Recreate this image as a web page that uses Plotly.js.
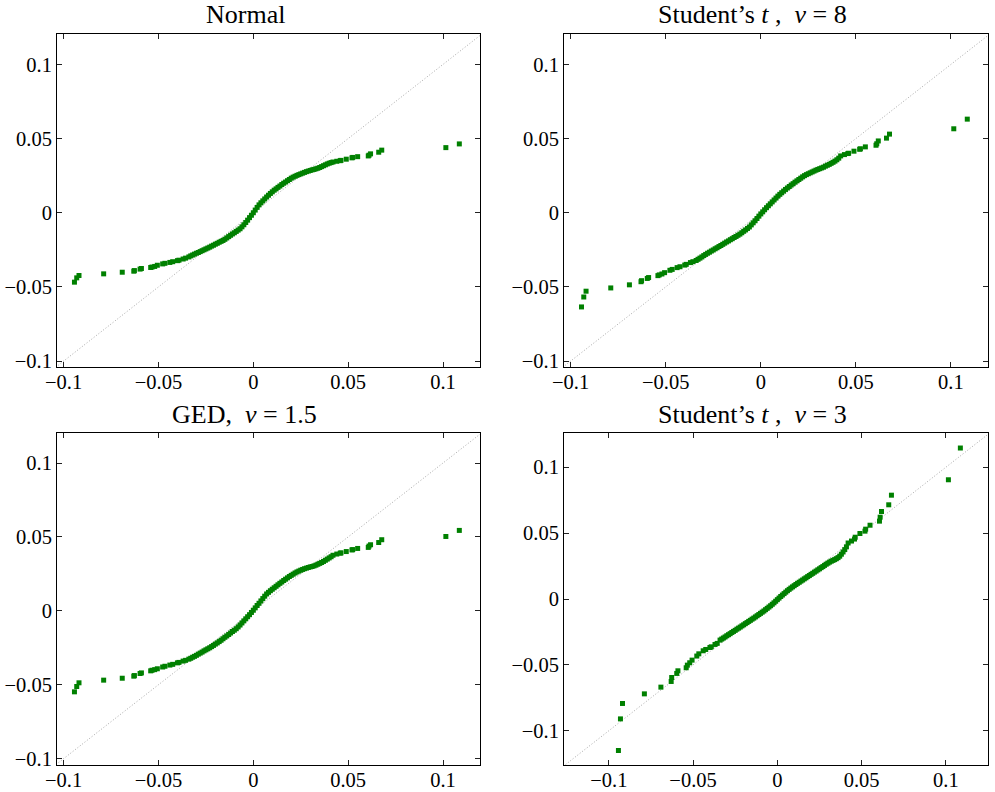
<!DOCTYPE html>
<html>
<head>
<meta charset="utf-8">
<script src="https://cdn.plot.ly/plotly-3.0.1.min.js"></script>
<style>html,body{margin:0;padding:0;background:#fff;}#chart{width:995px;height:792px;}</style>
</head>
<body>
<div id="chart"></div>
<script>
// Panel titles
const titles = ["Normal", "Student’s <i>t</i> ,  <i>ν</i> = 8", "GED,  <i>ν</i> = 1.5", "Student’s <i>t</i> ,  <i>ν</i> = 3"];

// Tick values / labels
const tickVals = [-0.1, -0.05, 0, 0.05, 0.1];
const tickText = ["−0.1", "−0.05", "0", "0.05", "0.1"];

// Reference (45-degree) line end points
const refLine = [-0.2, 0.2];

// Empirical quantiles (shared x for all panels)
const xEmp = [
  -0.0943, -0.0931, -0.0919, -0.0789, -0.0691, -0.0630, -0.0627, -0.0597, -0.0590, -0.0541,
  -0.0534, -0.0520, -0.0506, -0.0478, -0.0466, -0.0440, -0.0425, -0.0400, -0.0392, -0.0370, -0.0357,
  -0.034, -0.033, -0.032, -0.031, -0.030, -0.029, -0.028, -0.027, -0.026, -0.025,
  -0.024, -0.023, -0.022, -0.021, -0.020, -0.019, -0.018, -0.017, -0.016, -0.015,
  -0.014, -0.013, -0.012, -0.011, -0.010, -0.009, -0.008, -0.007, -0.006, -0.005,
  -0.004, -0.003, -0.002, -0.001, 0.000, 0.001, 0.002, 0.003, 0.004, 0.005,
  0.006, 0.007, 0.008, 0.009, 0.010, 0.011, 0.012, 0.013, 0.014, 0.015,
  0.016, 0.017, 0.018, 0.019, 0.020, 0.021, 0.022, 0.023, 0.024, 0.025,
  0.026, 0.027, 0.028, 0.029, 0.030, 0.031, 0.032, 0.033, 0.034, 0.035,
  0.036, 0.037, 0.038, 0.039, 0.040, 0.041,
  0.0420, 0.0440, 0.0458, 0.0462, 0.0490, 0.0520, 0.0524, 0.0550, 0.0606, 0.0610,
  0.0618, 0.0661, 0.0677, 0.1015, 0.1086
];

// Theoretical quantiles: Normal
const yNormal = [
  -0.0468, -0.0439, -0.0423, -0.0412, -0.0401, -0.0394, -0.0390, -0.0380, -0.0376, -0.0369,
  -0.0366, -0.0362, -0.0354, -0.0345, -0.0341, -0.0335, -0.0330, -0.0323, -0.0320, -0.0312, -0.0306,
  -0.0298, -0.0291, -0.0285, -0.0279, -0.0273, -0.0268, -0.0262, -0.0256, -0.0250, -0.0244,
  -0.0238, -0.0232, -0.0225, -0.0219, -0.0212, -0.0206, -0.0199, -0.0193, -0.0187, -0.0179,
  -0.0170, -0.0161, -0.0152, -0.0143, -0.0135, -0.0126, -0.0117, -0.0108, -0.0095, -0.0081,
  -0.0066, -0.0050, -0.0033, -0.0017, 0.0000, 0.0018, 0.0036, 0.0053, 0.0067, 0.0080,
  0.0093, 0.0106, 0.0118, 0.0130, 0.0141, 0.0152, 0.0161, 0.0171, 0.0180, 0.0190,
  0.0199, 0.0207, 0.0216, 0.0224, 0.0233, 0.0240, 0.0246, 0.0252, 0.0257, 0.0262,
  0.0267, 0.0272, 0.0277, 0.0281, 0.0285, 0.0289, 0.0292, 0.0296, 0.0300, 0.0305,
  0.0311, 0.0317, 0.0323, 0.0329, 0.0334, 0.0338,
  0.0342, 0.0347, 0.0351, 0.0353, 0.0361, 0.0370, 0.0373, 0.0378, 0.0383, 0.0388,
  0.0397, 0.0408, 0.0422, 0.0439, 0.0464
];

// Theoretical quantiles: Student's t, nu = 8
const yT8 = [
  -0.0635, -0.0568, -0.0529, -0.0507, -0.0486, -0.0465, -0.0458, -0.0443, -0.0437, -0.0424,
  -0.0419, -0.0413, -0.0404, -0.0388, -0.0382, -0.0370, -0.0364, -0.0353, -0.0348, -0.0336, -0.0330,
  -0.0322, -0.0314, -0.0306, -0.0298, -0.0289, -0.0281, -0.0273, -0.0266, -0.0258, -0.0251,
  -0.0243, -0.0236, -0.0228, -0.0221, -0.0213, -0.0205, -0.0197, -0.0190, -0.0182, -0.0175,
  -0.0167, -0.0160, -0.0152, -0.0144, -0.0135, -0.0125, -0.0116, -0.0106, -0.0096, -0.0082,
  -0.0068, -0.0054, -0.0039, -0.0023, -0.0008, 0.0006, 0.0020, 0.0034, 0.0047, 0.0060,
  0.0073, 0.0086, 0.0099, 0.0112, 0.0124, 0.0135, 0.0146, 0.0157, 0.0167, 0.0177,
  0.0187, 0.0196, 0.0206, 0.0215, 0.0224, 0.0233, 0.0242, 0.0250, 0.0257, 0.0263,
  0.0269, 0.0275, 0.0281, 0.0287, 0.0292, 0.0297, 0.0302, 0.0307, 0.0314, 0.0320,
  0.0326, 0.0333, 0.0340, 0.0348, 0.0357, 0.0368,
  0.0383, 0.0392, 0.0399, 0.0401, 0.0415, 0.0428, 0.0431, 0.0444, 0.0455, 0.0465,
  0.0484, 0.0503, 0.0530, 0.0566, 0.0631
];

// Theoretical quantiles: GED, nu = 1.5
const yGED = [
  -0.0548, -0.0512, -0.0487, -0.0469, -0.0456, -0.0442, -0.0438, -0.0424, -0.0420, -0.0406,
  -0.0402, -0.0398, -0.0392, -0.0380, -0.0375, -0.0367, -0.0362, -0.0352, -0.0349, -0.0340, -0.0335,
  -0.0327, -0.0321, -0.0314, -0.0308, -0.0301, -0.0293, -0.0286, -0.0279, -0.0271, -0.0264,
  -0.0257, -0.0250, -0.0242, -0.0234, -0.0225, -0.0217, -0.0208, -0.0199, -0.0189, -0.0179,
  -0.0170, -0.0160, -0.0150, -0.0140, -0.0131, -0.0121, -0.0109, -0.0096, -0.0082, -0.0068,
  -0.0054, -0.0040, -0.0026, -0.0011, 0.0004, 0.0020, 0.0036, 0.0051, 0.0067, 0.0083,
  0.0099, 0.0114, 0.0125, 0.0136, 0.0146, 0.0156, 0.0166, 0.0176, 0.0186, 0.0195,
  0.0205, 0.0214, 0.0223, 0.0232, 0.0240, 0.0248, 0.0256, 0.0263, 0.0269, 0.0275,
  0.0280, 0.0285, 0.0289, 0.0293, 0.0297, 0.0300, 0.0304, 0.0309, 0.0315, 0.0321,
  0.0327, 0.0334, 0.0342, 0.0350, 0.0358, 0.0366,
  0.0376, 0.0384, 0.0390, 0.0392, 0.0401, 0.0412, 0.0414, 0.0422, 0.0429, 0.0438,
  0.0447, 0.0462, 0.0481, 0.0503, 0.0544
];

// Theoretical quantiles: Student's t, nu = 3
const yT3 = [
  -0.1150, -0.0910, -0.0793, -0.0720, -0.0669, -0.0626, -0.0596, -0.0565, -0.0545, -0.0522,
  -0.0502, -0.0484, -0.0464, -0.0433, -0.0416, -0.0393, -0.0383, -0.0368, -0.0363, -0.0345, -0.0337,
  -0.0312, -0.0304, -0.0296, -0.0288, -0.0279, -0.0271, -0.0263, -0.0254, -0.0246, -0.0238,
  -0.0229, -0.0221, -0.0213, -0.0204, -0.0196, -0.0187, -0.0179, -0.0170, -0.0162, -0.0153,
  -0.0145, -0.0136, -0.0127, -0.0118, -0.0109, -0.0100, -0.0091, -0.0081, -0.0071, -0.0061,
  -0.0051, -0.0040, -0.0029, -0.0017, -0.0005, 0.0007, 0.0019, 0.0030, 0.0041, 0.0052,
  0.0063, 0.0073, 0.0083, 0.0092, 0.0101, 0.0110, 0.0119, 0.0127, 0.0136, 0.0144,
  0.0153, 0.0161, 0.0170, 0.0178, 0.0187, 0.0195, 0.0204, 0.0212, 0.0221, 0.0229,
  0.0238, 0.0246, 0.0255, 0.0264, 0.0272, 0.0280, 0.0287, 0.0293, 0.0299, 0.0306,
  0.0314, 0.0325, 0.0340, 0.0357, 0.0375, 0.0396,
  0.0425, 0.0440, 0.0455, 0.0469, 0.0497, 0.0515, 0.0530, 0.0560, 0.0591, 0.0621,
  0.0664, 0.0715, 0.0788, 0.0905, 0.1146
];

const series = [yNormal, yT8, yGED, yT3];
const axSuffix = ["", "2", "3", "4"];

const traces = [];
series.forEach((ys, i) => {
  const xa = "x" + axSuffix[i], ya = "y" + axSuffix[i];
  traces.push({
    x: refLine, y: refLine, xaxis: xa, yaxis: ya, mode: "lines",
    line: {color: "#a8a8a8", width: 1, dash: "1px,2px"}, hoverinfo: "skip", showlegend: false
  });
  traces.push({
    x: xEmp, y: ys, xaxis: xa, yaxis: ya, mode: "markers",
    marker: {symbol: "square", size: 5, color: "#008000", line: {width: 0}},
    showlegend: false
  });
});

const W = 995, H = 792;
// pixel boxes [left, right, top, bottom]
const boxes = [[57, 480, 34, 367], [564, 988, 34, 367], [57, 480, 433, 765], [564, 988, 433, 765]];
const xRanges = [[-0.1035, 0.1195], [-0.1035, 0.1195], [-0.1035, 0.1195], [-0.1266, 0.125]];
const yRanges = [[-0.104, 0.1205], [-0.104, 0.1205], [-0.1043, 0.1203], [-0.126, 0.126]];
const titlePos = [[245, 15], [752, 15], [244, 414], [752, 414]];

const fontFam = "Liberation Serif, Times New Roman, serif";
const baseAxis = {
  showline: true, linecolor: "#000", linewidth: 1, mirror: "ticks",
  ticks: "inside", ticklen: 5, tickwidth: 1, tickcolor: "#222",
  showgrid: false, zeroline: false, fixedrange: true,
  tickmode: "array", tickvals: tickVals, ticktext: tickText,
  tickfont: {family: fontFam, size: 20.5, color: "#000"}
};

const layout = {
  width: W, height: H, margin: {l: 0, r: 0, t: 0, b: 0},
  paper_bgcolor: "#fff", plot_bgcolor: "#fff", showlegend: false,
  annotations: []
};
boxes.forEach((b, i) => {
  const s = axSuffix[i];
  layout["xaxis" + s] = Object.assign({}, baseAxis, {
    domain: [b[0] / W, b[1] / W], range: xRanges[i], anchor: "y" + s,
    ticklabelstandoff: -4
  });
  layout["yaxis" + s] = Object.assign({}, baseAxis, {
    domain: [1 - b[3] / H, 1 - b[2] / H], range: yRanges[i], anchor: "x" + s
  });
  layout.annotations.push({
    text: titles[i], xref: "paper", yref: "paper",
    x: titlePos[i][0] / W, y: 1 - titlePos[i][1] / H,
    xanchor: "center", yanchor: "middle", showarrow: false,
    font: {family: fontFam, size: 26, color: "#000"}
  });
});

Plotly.newPlot("chart", traces, layout, {displayModeBar: false, staticPlot: true});
</script>
</body>
</html>
